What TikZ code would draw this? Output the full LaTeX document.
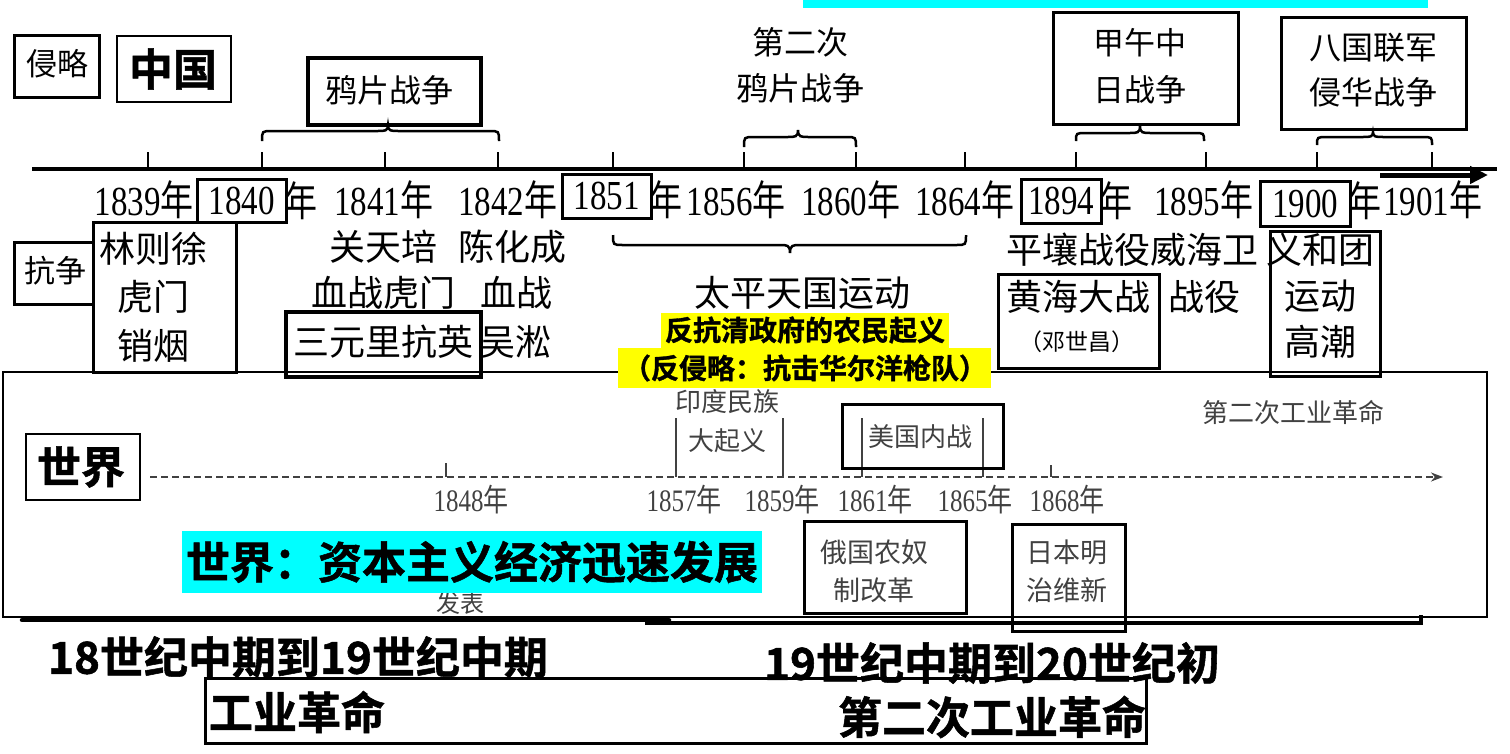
\documentclass[tikz,border=0pt]{standalone}
\usepackage{graphicx}
\usepackage{fontspec}
\setmainfont{Noto Sans CJK SC}[BoldFont={Noto Sans CJK SC Bold}, BoldFeatures={FakeBold=1.2}]
\newfontfamily\yrfont{Liberation Serif}
\usetikzlibrary{arrows.meta}
\definecolor{cyanfill}{RGB}{0,255,255}
\definecolor{yelfill}{RGB}{255,255,0}
\definecolor{wgrey}{RGB}{65,65,65}
\newcommand\yrtxt[1]{\scalebox{1}[1.25]{{\yrfont #1}年}}
\newcommand\yrdig[1]{\scalebox{1}[1.25]{\yrfont #1}}
\newcommand\nian{\scalebox{1}[1.25]{年}}
\newcommand\drawbrace[6]{\draw[brc] (#1,#5) .. controls (#1,#4) and (#1,#4) .. ({#1+10},#4) -- ({#3-10},#4) .. controls ({#3-3},#4) and (#3,#4) .. (#3,#6) .. controls (#3,#4) and ({#3+3},#4) .. ({#3+10},#4) -- ({#2-10},#4) .. controls (#2,#4) and (#2,#4) .. (#2,#5);}
\begin{document}
\begin{tikzpicture}[x=1pt,y=-1pt,
  bx/.style={draw, line width=3pt, inner sep=0pt},
  txt/.style={inner sep=0pt, align=center},
  fs/.style 2 args={font=\fontsize{#1}{#2}\selectfont},
  brc/.style={line width=2.5pt},
  tick/.style={line width=2pt},
  wtick/.style={line width=1.5pt, draw=wgrey},
  grey/.style={text=wgrey},
]
\useasboundingbox (0,0) rectangle (1510,753);
\fill[white] (0,0) rectangle (1510,753);
% top cyan strip
\fill[cyanfill] (803,0) rectangle (1428,8);

% ===== world box =====
\node[draw, line width=2pt, minimum width=1484.5, minimum height=245, inner sep=0pt] (world) at (744.75,494.5) {};
\node[draw, line width=2pt, minimum width=114, minimum height=66, inner sep=0pt] (shijiebox) at (83,467) {};
\node[txt, fs={44}{50}] (shijie) at (81,467) {\bfseries 世界};

% world dashed axis
\coordinate (wL) at (150,477);
\coordinate (wR) at (1443,477);
\draw[wgrey, line width=2pt, dash pattern=on 7pt off 4pt, -{Stealth[length=12pt,width=9pt]}] (wL) -- (wR);
\draw[wtick] (446,463) -- (446,477);
\draw[wtick] (676,418) -- (676,477);
\draw[wtick] (783,418) -- (783,477);
\draw[wtick] (862,418) -- (862,477);
\draw[wtick] (983,418) -- (983,477);
\draw[wtick] (1051,465) -- (1051,477);

\node[txt, grey, fs={26}{39}] (yindu) at (727,421.5) {印度民族\\大起义};
\node[bx, minimum width=161, minimum height=64] (meiguobox) at (922.5,436) {};
\node[txt, grey, fs={26}{39}] (meiguo) at (920,437) {美国内战};
\node[txt, grey, fs={26}{39}] (second) at (1293,413) {第二次工业革命};

\node[txt, grey, fs={25}{30}] (w1848) at (471,500) {\yrtxt{1848}};
\node[txt, grey, fs={25}{30}] (w1857) at (684,500) {\yrtxt{1857}};
\node[txt, grey, fs={25}{30}] (w1859) at (782,500) {\yrtxt{1859}};
\node[txt, grey, fs={25}{30}] (w1861) at (875,500) {\yrtxt{1861}};
\node[txt, grey, fs={25}{30}] (w1865) at (975,500) {\yrtxt{1865}};
\node[txt, grey, fs={25}{30}] (w1868) at (1067,500) {\yrtxt{1868}};

\node[bx, minimum width=162, minimum height=92] (eguobox) at (885,567) {};
\node[txt, grey, fs={27}{38}] (eguo) at (874,571) {俄国农奴\\制改革};
\node[bx, minimum width=113, minimum height=107] (ribenbox) at (1068.5,577.5) {};
\node[txt, grey, fs={27}{38}] (riben) at (1067,571) {日本明\\治维新};

\node[txt, grey, fs={24}{30}] (fabiao) at (460,603) {发表};
\node[fill=cyanfill, minimum width=580, minimum height=62, inner sep=0pt] (cyanbox) at (472,562) {};
\node[txt, fs={44}{50}] (cyantext) at (472,562) {\bfseries 世界：资本主义经济迅速发展};

% bottom thick lines
\draw[line width=4.5pt, line cap=round] (22,620) -- (669,620);
\draw[line width=4pt] (645,623) -- (1421,623) -- (1421,615);

% bottom box
\node[bx, minimum width=941, minimum height=65] (gongyebox) at (675.5,710.5) {};
\node[txt, fs={44}{50}] (t18) at (298,657) {\bfseries 18世纪中期到19世纪中期};
\node[txt, fs={44}{50}] (gongye) at (297,712) {\bfseries 工业革命};
\node[txt, fs={44}{50}] (t19) at (992,663) {\bfseries 19世纪中期到20世纪初};
\node[txt, fs={44}{50}] (gongye2) at (992,717) {\bfseries 第二次工业革命};

% ===== China top =====
\node[bx, minimum width=84.5, minimum height=62] (qinluebox) at (56.75,66) {};
\node[txt, fs={31}{40}] (qinlue) at (57,64) {侵略};
\node[draw, line width=2pt, minimum width=114, minimum height=66, inner sep=0pt] (zgbox) at (174,69) {};
\node[txt, fs={44}{50}] (zg) at (173,69) {\bfseries 中国};

\node[draw, line width=4pt, minimum width=173, minimum height=67, inner sep=0pt] (yapianbox) at (394.5,91.5) {};
\node[txt, fs={32}{40}] (yapian) at (389,90) {鸦片战争};
\node[txt, fs={32}{46}] (dierci) at (800,65) {第二次\\鸦片战争};
\node[bx, minimum width=185, minimum height=112] (jiawubox) at (1145.5,68) {};
\node[txt, fs={31}{47}] (jiawu) at (1140,66.5) {甲午中\\日战争};
\node[bx, minimum width=185, minimum height=112] (baguobox) at (1373.5,73) {};
\node[txt, fs={32}{45}] (baguo) at (1373,70.5) {八国联军\\侵华战争};

% braces
\drawbrace{262}{499}{388}{131}{141}{125}
\drawbrace{744}{856}{798}{137}{147}{130}
\drawbrace{1076}{1204}{1140}{133}{141}{126}
\drawbrace{1317}{1432}{1373}{137}{145}{132}
\drawbrace{613}{966}{790}{245}{235}{253}

% main axis
\coordinate (axL) at (32,169);
\coordinate (axR) at (1497,169);
\draw[line width=4.5pt] (axL) -- (axR);
\coordinate (arL) at (1380,175);
\coordinate (arR) at (1488,175);
\draw[line width=5pt, -{Triangle[length=18pt,width=17pt]}] (arL) -- (arR);
\foreach \x in {148,262,385,498,613,744,856,965,1076,1206,1317,1432}
  \draw[tick] (\x,152) -- (\x,169);

% years
\node[txt, fs={33}{40}] (y1839) at (144,200) {\yrtxt{1839}};
\node[bx, minimum width=89, minimum height=43] (b1840) at (241.5,200.5) {\fontsize{33}{40}\selectfont\yrdig{1840}};
\node[txt, fs={33}{40}, anchor=west] (n1840) at ([xshift=-3pt]b1840.east) {\nian};
\node[txt, fs={33}{40}] (y1841) at (383.5,200) {\yrtxt{1841}};
\node[txt, fs={33}{40}] (y1842) at (507.5,200) {\yrtxt{1842}};
\node[bx, minimum width=89, minimum height=44] (b1851) at (606.5,196) {\fontsize{33}{40}\selectfont\yrdig{1851}};
\node[txt, fs={33}{40}, anchor=west] (n1851) at ([xshift=-3pt,yshift=-4pt]b1851.east) {\nian};
\node[txt, fs={33}{40}] (y1856) at (736,200) {\yrtxt{1856}};
\node[txt, fs={33}{40}] (y1860) at (850.5,200) {\yrtxt{1860}};
\node[txt, fs={33}{40}] (y1864) at (964.5,200) {\yrtxt{1864}};
\node[bx, minimum width=80, minimum height=44] (b1894) at (1061,201) {\fontsize{33}{40}\selectfont\yrdig{1894}};
\node[txt, fs={33}{40}, anchor=west] (n1894) at ([xshift=-3pt]b1894.east) {\nian};
\node[txt, fs={33}{40}] (y1895) at (1203.5,200) {\yrtxt{1895}};
\node[bx, minimum width=90, minimum height=45] (b1900) at (1305,203.5) {\fontsize{33}{40}\selectfont\yrdig{1900}};
\node[txt, fs={33}{40}, anchor=west] (n1900) at ([xshift=-3pt,yshift=3pt]b1900.east) {\nian};
\node[txt, fs={33}{40}] (y1901) at (1432.5,200) {\yrtxt{1901}};

% below axis
\node[bx, minimum width=78.5, minimum height=62] (kzbox) at (53.75,273) {};
\node[txt, fs={31}{40}] (kz) at (55,271) {抗争};
\node[bx, minimum width=143, minimum height=150] (linbox) at (164.5,297) {};
\node[txt, fs={36}{48.5}] (lin) at (153,297) {林则徐\\虎门\\销烟};
\node[txt, fs={36}{46}] (guan) at (383,270) {关天培\\血战虎门};
\node[txt, fs={36}{46}] (chen1) at (512,247) {陈化成};
\node[txt, fs={36}{46}] (chen2) at (516,293) {血战};
\node[txt, fs={36}{46}] (chen3) at (515,342) {吴淞};
\node[draw, line width=4pt, minimum width=195, minimum height=65, inner sep=0pt] (sylbox) at (383.5,344.5) {};
\node[txt, fs={36}{46}] (syl) at (383,342) {三元里抗英};
\node[txt, fs={36}{46}] (taiping) at (802,293) {太平天国运动};
\node[txt, fs={36}{46}] (pingrang) at (1132,250) {平壤战役威海卫};
\node[bx, minimum width=161, minimum height=94] (hhbox) at (1078.5,321) {};
\node[txt, fs={36}{46}] (hh) at (1078,297) {黄海大战};
\node[txt, fs={23}{30}] (deng) at (1077,342) {（邓世昌）};
\node[txt, fs={36}{46}] (zhanyi) at (1204,297) {战役};
\node[bx, minimum width=110, minimum height=145] (yhbox) at (1325,303.5) {};
\node[txt, fs={36}{46}] (yh) at (1320,296) {义和团\\运动\\高潮};

% yellow labels
\node[fill=yelfill, minimum width=288, minimum height=35, inner sep=0pt] (yel1) at (805,330.5) {};
\node[fill=yelfill, minimum width=373, minimum height=40, inner sep=0pt] (yel2) at (804.5,368) {};
\node[txt, fs={28}{34}] (yt1) at (805,330) {\bfseries 反抗清政府的农民起义};
\node[txt, fs={28}{34}] (yt2) at (805,368) {\bfseries （反侵略：抗击华尔洋枪队）};
\end{tikzpicture}
\end{document}
